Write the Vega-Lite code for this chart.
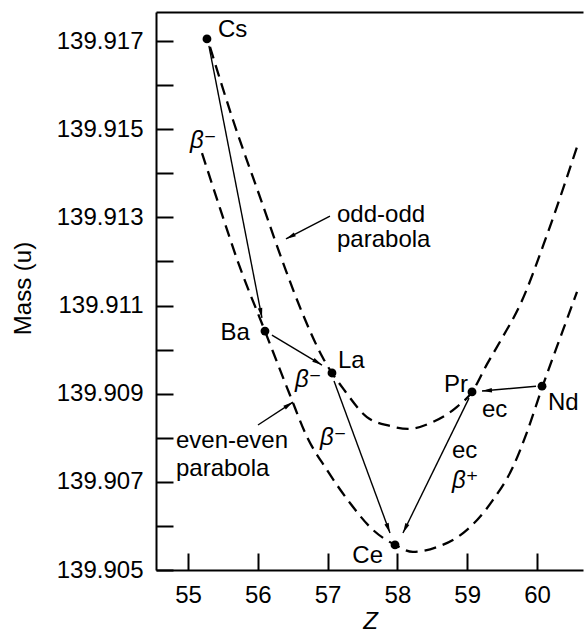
{
  "$schema": "https://vega.github.io/schema/vega-lite/v6.json",
  "width": 427,
  "height": 558,
  "autosize": {"type": "none"},
  "padding": {"left": 156, "top": 12, "right": 1, "bottom": 65},
  "background": "white",
  "config": {
    "view": {"stroke": null},
    "font": "Liberation Sans",
    "text": {"font": "Liberation Sans", "fontSize": 24, "color": "black", "baseline": "alphabetic"},
    "axis": {
      "domainColor": "black",
      "domainWidth": 2,
      "tickColor": "black",
      "tickWidth": 2,
      "grid": false,
      "labelFont": "Liberation Sans",
      "labelFontSize": 24,
      "labelColor": "black",
      "titleFont": "Liberation Sans",
      "titleFontSize": 24,
      "titleFontWeight": "normal",
      "titleColor": "black"
    }
  },
  "datasets": {
    "curves": [
      {"curve": "odd-odd", "Z": 55.315, "mass": 139.91687},
      {"curve": "odd-odd", "Z": 55.645, "mass": 139.91521},
      {"curve": "odd-odd", "Z": 56.032, "mass": 139.91346},
      {"curve": "odd-odd", "Z": 56.390, "mass": 139.91185},
      {"curve": "odd-odd", "Z": 56.633, "mass": 139.91085},
      {"curve": "odd-odd", "Z": 56.934, "mass": 139.90981},
      {"curve": "odd-odd", "Z": 57.249, "mass": 139.90906},
      {"curve": "odd-odd", "Z": 57.564, "mass": 139.90847},
      {"curve": "odd-odd", "Z": 57.894, "mass": 139.90827},
      {"curve": "odd-odd", "Z": 58.152, "mass": 139.90820},
      {"curve": "odd-odd", "Z": 58.510, "mass": 139.90836},
      {"curve": "odd-odd", "Z": 58.854, "mass": 139.90870},
      {"curve": "odd-odd", "Z": 59.069, "mass": 139.90904},
      {"curve": "odd-odd", "Z": 59.284, "mass": 139.90967},
      {"curve": "odd-odd", "Z": 59.499, "mass": 139.91026},
      {"curve": "odd-odd", "Z": 59.756, "mass": 139.91101},
      {"curve": "odd-odd", "Z": 60.143, "mass": 139.91260},
      {"curve": "odd-odd", "Z": 60.573, "mass": 139.91460},
      {"curve": "even-even", "Z": 55.201, "mass": 139.91446},
      {"curve": "even-even", "Z": 55.458, "mass": 139.91321},
      {"curve": "even-even", "Z": 55.716, "mass": 139.91199},
      {"curve": "even-even", "Z": 56.103, "mass": 139.91042},
      {"curve": "even-even", "Z": 56.461, "mass": 139.90897},
      {"curve": "even-even", "Z": 56.705, "mass": 139.90802},
      {"curve": "even-even", "Z": 56.991, "mass": 139.90727},
      {"curve": "even-even", "Z": 57.321, "mass": 139.90652},
      {"curve": "even-even", "Z": 57.650, "mass": 139.90591},
      {"curve": "even-even", "Z": 57.966, "mass": 139.90557},
      {"curve": "even-even", "Z": 58.223, "mass": 139.90541},
      {"curve": "even-even", "Z": 58.567, "mass": 139.90552},
      {"curve": "even-even", "Z": 58.997, "mass": 139.90591},
      {"curve": "even-even", "Z": 59.370, "mass": 139.90659},
      {"curve": "even-even", "Z": 59.656, "mass": 139.90734},
      {"curve": "even-even", "Z": 59.857, "mass": 139.90813},
      {"curve": "even-even", "Z": 60.072, "mass": 139.90913},
      {"curve": "even-even", "Z": 60.372, "mass": 139.91044},
      {"curve": "even-even", "Z": 60.573, "mass": 139.91131}
    ],
    "nuclides": [
      {"name": "Cs", "Z": 55.272, "mass": 139.91705},
      {"name": "Ba", "Z": 56.103, "mass": 139.91042},
      {"name": "La", "Z": 57.063, "mass": 139.90947},
      {"name": "Ce", "Z": 57.966, "mass": 139.90557},
      {"name": "Pr", "Z": 59.069, "mass": 139.90904},
      {"name": "Nd", "Z": 60.072, "mass": 139.90917}
    ],
    "arrows": [
      {"Z": 55.30, "mass": 139.91689, "Z2": 56.060, "mass2": 139.91072},
      {"Z": 56.203, "mass": 139.91033, "Z2": 56.920, "mass2": 139.90965},
      {"Z": 57.092, "mass": 139.90929, "Z2": 57.894, "mass2": 139.90584},
      {"Z": 59.026, "mass": 139.90890, "Z2": 58.080, "mass2": 139.90584},
      {"Z": 59.986, "mass": 139.90917, "Z2": 59.212, "mass2": 139.90906},
      {"Z": 57.034, "mass": 139.91303, "Z2": 56.404, "mass2": 139.91251},
      {"Z": 56.003, "mass": 139.90829, "Z2": 56.504, "mass2": 139.90881}
    ],
    "labelsLeft": [
      {"text": "Cs", "Z": 55.43, "mass": 139.91709},
      {"text": "La", "Z": 57.149, "mass": 139.90958},
      {"text": "Nd", "Z": 60.158, "mass": 139.90863},
      {"text": "ec", "Z": 59.212, "mass": 139.90847},
      {"text": "ec", "Z": 58.782, "mass": 139.90754},
      {"text": "odd-odd", "Z": 57.135, "mass": 139.91290},
      {"text": "parabola", "Z": 57.135, "mass": 139.91233},
      {"text": "even-even", "Z": 54.828, "mass": 139.90777},
      {"text": "parabola", "Z": 54.828, "mass": 139.90713}
    ],
    "labelsRight": [
      {"text": "Ba", "Z": 55.888, "mass": 139.91022},
      {"text": "Ce", "Z": 57.794, "mass": 139.90516},
      {"text": "Pr", "Z": 59.011, "mass": 139.90904}
    ],
    "decays": [
      {"text": "β⁻", "Z": 55.029, "mass": 139.91457},
      {"text": "β⁻", "Z": 56.533, "mass": 139.90915},
      {"text": "β⁻", "Z": 56.891, "mass": 139.90784},
      {"text": "β⁺", "Z": 58.782, "mass": 139.90686}
    ]
  },
  "layer": [
    {
      "data": {"name": "curves"},
      "mark": {"type": "line", "color": "black", "strokeWidth": 2.3, "strokeDash": [12, 7], "interpolate": "monotone"},
      "encoding": {
        "x": {"field": "Z", "type": "quantitative", "scale": {"domain": [54.542, 60.659], "nice": false, "zero": false},
          "axis": {"orient": "bottom", "values": [55, 56, 57, 58, 59, 60], "format": "d", "tickSize": -17, "labelPadding": 30,
            "title": "Z", "titleFontStyle": "italic", "titleX": 214, "titleY": 58, "titleAlign": "center", "titleBaseline": "alphabetic"}},
        "y": {"field": "mass", "type": "quantitative", "scale": {"domain": [139.905, 139.91766], "nice": false, "zero": false},
          "axis": {"orient": "left", "values": [139.905, 139.906, 139.907, 139.908, 139.909, 139.91, 139.911, 139.912, 139.913, 139.914, 139.915, 139.916, 139.917],
            "labelExpr": "round(datum.value*1000) % 2 == 1 ? format(datum.value, '.3f') : ''",
            "tickSize": -17, "labelPadding": 30,
            "title": "Mass (u)", "titleAngle": -90, "titleX": -133, "titleY": 276, "titleAlign": "center", "titleBaseline": "middle"}},
        "detail": {"field": "curve"}
      }
    },
    {
      "data": {"name": "arrows"},
      "mark": {"type": "rule", "color": "black", "strokeWidth": 1.4},
      "encoding": {
        "x": {"field": "Z", "type": "quantitative", "axis": null},
        "y": {"field": "mass", "type": "quantitative", "axis": null},
        "x2": {"field": "Z2"},
        "y2": {"field": "mass2"}
      }
    },
    {
      "data": {"name": "arrows"},
      "transform": [
        {"calculate": "atan2((datum.Z2 - datum.Z) * 69.81, (datum.mass2 - datum.mass) * 44076) * 180 / PI", "as": "heading"}
      ],
      "mark": {"type": "point", "filled": true, "color": "black", "opacity": 1, "shape": "M0,0L-0.36,1.6L0.36,1.6Z", "size": 156, "strokeWidth": 0},
      "encoding": {
        "x": {"field": "Z2", "type": "quantitative", "axis": null},
        "y": {"field": "mass2", "type": "quantitative", "axis": null},
        "angle": {"field": "heading", "type": "quantitative", "scale": null}
      }
    },
    {
      "data": {"name": "nuclides"},
      "mark": {"type": "point", "filled": true, "color": "black", "opacity": 1, "shape": "circle", "size": 78},
      "encoding": {
        "x": {"field": "Z", "type": "quantitative",
          "axis": {"orient": "top", "ticks": false, "labels": false, "title": null, "domain": true}},
        "y": {"field": "mass", "type": "quantitative", "axis": null}
      }
    },
    {
      "data": {"name": "labelsLeft"},
      "mark": {"type": "text", "align": "left", "baseline": "alphabetic"},
      "encoding": {
        "x": {"field": "Z", "type": "quantitative", "axis": null},
        "y": {"field": "mass", "type": "quantitative", "axis": null},
        "text": {"field": "text"}
      }
    },
    {
      "data": {"name": "labelsRight"},
      "mark": {"type": "text", "align": "right", "baseline": "alphabetic"},
      "encoding": {
        "x": {"field": "Z", "type": "quantitative", "axis": null},
        "y": {"field": "mass", "type": "quantitative", "axis": null},
        "text": {"field": "text"}
      }
    },
    {
      "data": {"name": "decays"},
      "mark": {"type": "text", "align": "left", "baseline": "alphabetic", "fontStyle": "italic", "font": "Liberation Sans, DejaVu Sans"},
      "encoding": {
        "x": {"field": "Z", "type": "quantitative", "axis": null},
        "y": {"field": "mass", "type": "quantitative", "axis": null},
        "text": {"field": "text"}
      }
    }
  ],
  "resolve": {"axis": {"x": "independent", "y": "independent"}}
}
